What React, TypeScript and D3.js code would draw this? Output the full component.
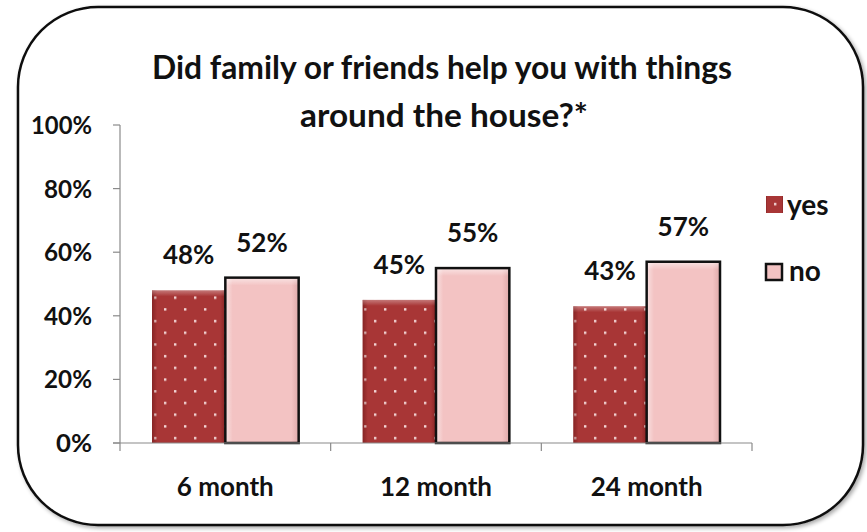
import React from "react";
import * as d3 from "d3";

const categories = ["6 month", "12 month", "24 month"];
const seriesNames = ["yes", "no"];
const yesValues = [48, 45, 43];
const noValues = [52, 55, 57];
const yTicks = [0, 20, 40, 60, 80, 100];
const titleLines = ["Did family or friends help you with things", "around the house?*"];

const W = 867;
const H = 532;
const FONT = "Lato, 'Open Sans', sans-serif";

export default function App() {
  const x = d3.scaleBand<string>().domain(categories).range([120, 752]).paddingInner(0).paddingOuter(0);
  const inner = d3.scaleBand<string>().domain(seriesNames).range([32, x.bandwidth() - 32]).padding(0);
  const y = d3.scaleLinear().domain([0, 100]).range([443, 125]);

  const series = [
    { name: "yes", values: yesValues },
    { name: "no", values: noValues },
  ];

  const boundaries = [...categories.map((c) => x(c) as number), 752];

  return (
    <div style={{ position: "fixed", left: 0, top: 0, width: W, height: H, overflow: "hidden" }}>
      <svg width={W} height={H} style={{ display: "block", background: "#fff" }}>
        <defs>
          <pattern id="dots" width="20" height="23.4" patternUnits="userSpaceOnUse" x="0" y="0">
            <rect width="20" height="23.4" fill="#a83636" />
            <rect x="4" y="4" width="2.4" height="2.4" fill="#fbe8e8" opacity="0.9" />
            <rect x="14" y="15.7" width="2.4" height="2.4" fill="#fbe8e8" opacity="0.9" />
          </pattern>
          <linearGradient id="yesH" x1="0" x2="1" y1="0" y2="0">
            <stop offset="0" stopColor="#5e1010" stopOpacity="0.45" />
            <stop offset="0.07" stopColor="#5e1010" stopOpacity="0" />
            <stop offset="0.93" stopColor="#5e1010" stopOpacity="0" />
            <stop offset="1" stopColor="#5e1010" stopOpacity="0.45" />
          </linearGradient>
          <linearGradient id="noH" x1="0" x2="1" y1="0" y2="0">
            <stop offset="0" stopColor="#ffffff" stopOpacity="0.5" />
            <stop offset="0.1" stopColor="#ffffff" stopOpacity="0" />
            <stop offset="0.9" stopColor="#c98f8f" stopOpacity="0" />
            <stop offset="1" stopColor="#c98f8f" stopOpacity="0.5" />
          </linearGradient>
          <linearGradient id="topHi" x1="0" x2="0" y1="0" y2="1">
            <stop offset="0" stopColor="#ffffff" stopOpacity="0.55" />
            <stop offset="1" stopColor="#ffffff" stopOpacity="0" />
          </linearGradient>
          <filter id="shadow" x="-5%" y="-5%" width="110%" height="110%">
            <feGaussianBlur in="SourceAlpha" stdDeviation="2" />
            <feOffset dx="1.5" dy="1.5" result="b" />
            <feComponentTransfer>
              <feFuncA type="linear" slope="0.35" />
            </feComponentTransfer>
            <feMerge>
              <feMergeNode />
              <feMergeNode in="SourceGraphic" />
            </feMerge>
          </filter>
        </defs>

        <rect x={18} y={7} width={845} height={518} rx={80} ry={80} fill="#fff" stroke="#111" strokeWidth={2.5} filter="url(#shadow)" />

        {/* title */}
        <text x={442} y={79} textAnchor="middle" fontFamily={FONT} fontWeight={700} fontSize={32} fill="#111" textLength={580} lengthAdjust="spacingAndGlyphs">
          {titleLines[0]}
        </text>
        <text x={444} y={127} textAnchor="middle" fontFamily={FONT} fontWeight={700} fontSize={32} fill="#111" textLength={288} lengthAdjust="spacingAndGlyphs">
          {titleLines[1]}
        </text>

        {/* y axis */}
        <line x1={120} x2={120} y1={y(100)} y2={y(0)} stroke="#8a8a8a" strokeWidth={1.2} />
        {yTicks.map((t) => (
          <g key={t}>
            <line x1={113} x2={120} y1={y(t)} y2={y(t)} stroke="#8a8a8a" strokeWidth={1.2} />
            <text x={92} y={y(t) + 9} textAnchor="end" fontFamily={FONT} fontWeight={700} fontSize={25} fill="#111" textLength={t === 100 ? 61 : t === 0 ? 36 : 48} lengthAdjust="spacingAndGlyphs">
              {t}%
            </text>
          </g>
        ))}

        {/* bars */}
        {categories.map((c, i) =>
          series.map((s) => {
            const bx = (x(c) as number) + (inner(s.name) as number);
            const bw = inner.bandwidth();
            const v = s.values[i];
            const by = y(v);
            const bh = y(0) - by;
            if (s.name === "yes") {
              return (
                <g key={c + s.name}>
                  <rect x={bx} y={by} width={bw} height={bh} fill="url(#dots)" />
                  <rect x={bx} y={by} width={bw} height={bh} fill="url(#yesH)" />
                  <rect x={bx} y={by} width={bw} height={6} fill="url(#topHi)" opacity={0.6} />
                  <text x={bx + bw / 2} y={by - 26} textAnchor="middle" fontFamily={FONT} fontWeight={700} fontSize={26} fill="#111">
                    {v}%
                  </text>
                </g>
              );
            }
            return (
              <g key={c + s.name}>
                <rect x={bx} y={by} width={bw} height={bh} fill="#f3c3c3" />
                <rect x={bx} y={by} width={bw} height={bh} fill="url(#noH)" />
                <rect x={bx} y={by} width={bw} height={8} fill="url(#topHi)" />
                <rect x={bx} y={by} width={bw} height={bh} fill="none" stroke="#111" strokeWidth={2.5} />
                <text x={bx + bw / 2} y={by - 26} textAnchor="middle" fontFamily={FONT} fontWeight={700} fontSize={26} fill="#111">
                  {v}%
                </text>
              </g>
            );
          })
        )}

        {/* x axis */}
        <line x1={113} x2={752} y1={y(0)} y2={y(0)} stroke="#8a8a8a" strokeWidth={1.2} />
        {boundaries.map((b, i) => (
          <line key={i} x1={b} x2={b} y1={y(0)} y2={y(0) + 8} stroke="#8a8a8a" strokeWidth={1.2} />
        ))}
        {categories.map((c) => (
          <text key={c} x={(x(c) as number) + x.bandwidth() / 2} y={496} textAnchor="middle" fontFamily={FONT} fontWeight={700} fontSize={26} fill="#111">
            {c}
          </text>
        ))}

        {/* legend */}
        <rect x={766} y={196} width={17} height={17} fill="url(#dots)" />
        <rect x={766} y={196} width={17} height={17} fill="url(#yesH)" />
        <text x={787} y={215} fontFamily={FONT} fontWeight={700} fontSize={28} fill="#111">
          yes
        </text>
        <rect x={766} y={264} width={16} height={16} fill="#f3c3c3" stroke="#111" strokeWidth={2.5} />
        <text x={789} y={281} fontFamily={FONT} fontWeight={700} fontSize={28} fill="#111">
          no
        </text>
      </svg>
    </div>
  );
}
